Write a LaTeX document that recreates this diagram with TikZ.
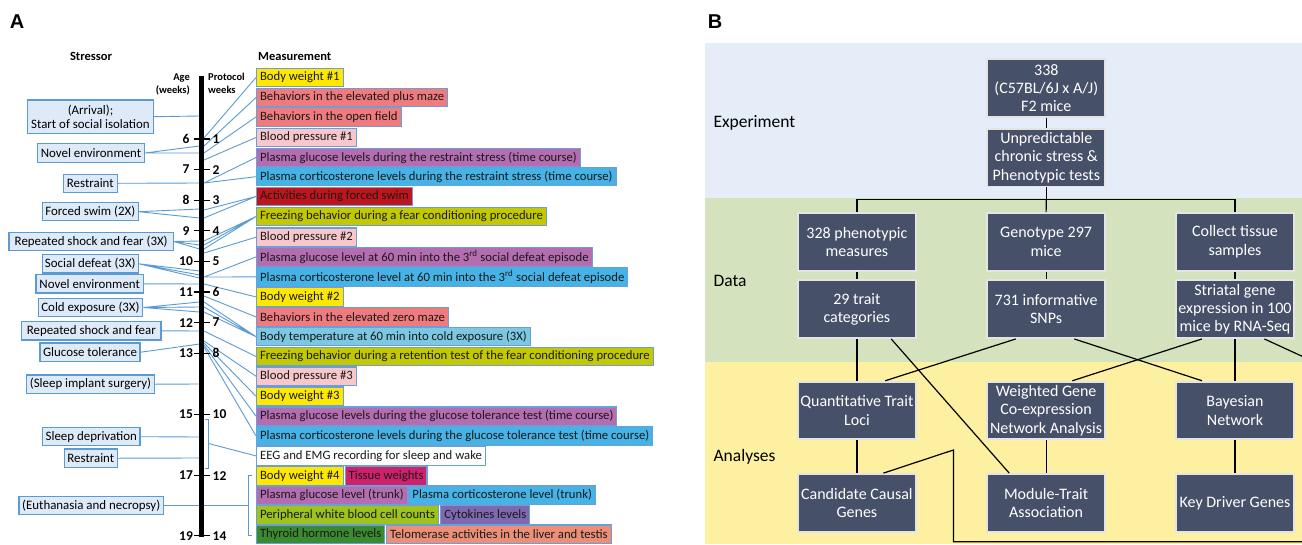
\documentclass[tikz,border=0pt]{standalone}
\usepackage{fontspec}
\setmainfont{Carlito}
\newfontfamily\letterfont{Liberation Sans}
\usetikzlibrary{calc}

\definecolor{stressfill}{HTML}{DEEAF7}
\definecolor{linkblue}{HTML}{5B9BD5}
\definecolor{measline}{HTML}{6A9FD8}
\definecolor{cWeight}{HTML}{FFE800}
\definecolor{cBehav}{HTML}{EF7B7E}
\definecolor{cBP}{HTML}{F8C7CC}
\definecolor{cGlu}{HTML}{B46DB1}
\definecolor{cCort}{HTML}{46B3E6}
\definecolor{cSwim}{HTML}{C0151C}
\definecolor{cFreeze}{HTML}{C3C900}
\definecolor{cTemp}{HTML}{7CC8E2}
\definecolor{cTissue}{HTML}{D0216C}
\definecolor{cWBC}{HTML}{9DC31C}
\definecolor{cCyto}{HTML}{7E68B0}
\definecolor{cThyroid}{HTML}{3B8A2F}
\definecolor{cTelo}{HTML}{EC8F78}
\definecolor{bandExp}{HTML}{E4EDF8}
\definecolor{bandData}{HTML}{D4E3BE}
\definecolor{bandAna}{HTML}{FDF1A1}
\definecolor{boxslate}{HTML}{465069}
\definecolor{boxrim}{HTML}{E4E4E4}

\tikzset{
  stressor/.style={draw=linkblue, fill=stressfill, line width=1.2pt, inner sep=0pt,
    minimum height=18.3pt, align=center, font=\fontsize{12.9}{14.5}\selectfont},
  meas/.style={draw=measline, line width=1.1pt, anchor=west, inner xsep=3.5pt, inner ysep=0pt,
    minimum height=18.4pt, text=black!90, font=\fontsize{12.7}{14}\selectfont},
  link/.style={linkblue, line width=0.9pt},
  headlab/.style={inner sep=0pt, font=\bfseries\fontsize{12.5}{14}\selectfont},
  smalllab/.style={inner sep=0pt, font=\bfseries\fontsize{10.5}{13}\selectfont},
  agelab/.style={inner sep=0pt, font=\bfseries\fontsize{13.5}{15}\selectfont},
  panellab/.style={inner sep=0pt, font=\letterfont\bfseries\fontsize{20}{22}\selectfont},
  bandlab/.style={anchor=west, inner sep=0pt, font=\fontsize{17.5}{20}\selectfont},
  flowbox/.style={draw=boxrim, fill=boxslate, line width=1.8pt, text=white,
    minimum width=117.9pt, minimum height=57.7pt, inner xsep=0pt, inner ysep=0pt,
    align=center, font=\fontsize{16}{18.3}\selectfont},
  flow/.style={black, line width=1.2pt}
}

\begin{document}
\begin{tikzpicture}[x=1pt, y=-1pt]
\useasboundingbox (0,0) rectangle (1302,544);
\fill[white] (0,0) rectangle (1302,544);
\clip (0,0) rectangle (1302,544);

% ---------------- Panel A: stress protocol timeline ----------------
\node[panellab] (panelA) at (17,22) {A};
\node[headlab] (hStress) at (91,56) {Stressor};
\node[headlab, anchor=west] (hMeas) at (258,56) {Measurement};
\node[smalllab, anchor=north east, align=right] (hAge) at (190,73) {Age\\(weeks)};
\node[smalllab, anchor=north west, align=left] (hWeeks) at (208,73) {Protocol\\weeks};

% stressor boxes
\node[stressor, minimum width=125.6pt, minimum height=33.3pt] (sArrival) at (90.5,116.7) {(Arrival);\\Start of social isolation};
\node[stressor, minimum width=106.6pt] (sNovelA) at (91,153) {Novel environment};
\node[stressor, minimum width=54pt] (sRestrA) at (90.3,183.3) {Restraint};
\node[stressor, minimum width=96pt] (sSwim) at (90.3,211.7) {Forced swim (2X)};
\node[stressor, minimum width=164.3pt] (sShockA) at (91.2,241.5) {Repeated shock and fear (3X)};
\node[stressor, minimum width=96pt] (sDefeat) at (90.3,263.8) {Social defeat (3X)};
\node[stressor, minimum width=107.3pt] (sNovelB) at (89.7,283.8) {Novel environment};
\node[stressor, minimum width=104.4pt] (sCold) at (90.5,307.5) {Cold exposure (3X)};
\node[stressor, minimum width=139.3pt] (sShockB) at (91.3,330.8) {Repeated shock and fear};
\node[stressor, minimum width=100pt] (sGlucose) at (90,352.2) {Glucose tolerance};
\node[stressor, minimum width=127.6pt] (sImplant) at (90.5,384.2) {(Sleep implant surgery)};
\node[stressor, minimum width=97.3pt] (sSleep) at (91.3,436.7) {Sleep deprivation};
\node[stressor, minimum width=53pt] (sRestrB) at (90.8,458.2) {Restraint};
\node[stressor, minimum width=144.3pt] (sEuth) at (91.2,505.5) {(Euthanasia and necropsy)};

% measurement boxes
\node[meas, fill=cWeight] (mW1) at (256,77.5) {Body weight \#1};
\node[meas, fill=cBehav] (mPlus) at (256,97.5) {Behaviors in the elevated plus maze};
\node[meas, fill=cBehav] (mOpen) at (256,116.9) {Behaviors in the open field};
\node[meas, fill=cBP] (mBP1) at (256,137.5) {Blood pressure \#1};
\node[meas, fill=cGlu] (mGluR) at (256,157.5) {Plasma glucose levels during the restraint stress (time course)};
\node[meas, fill=cCort] (mCortR) at (256,176.7) {Plasma corticosterone levels during the restraint stress (time course)};
\node[meas, fill=cSwim] (mSwim) at (256,196.5) {Activities during forced swim};
\node[meas, fill=cFreeze] (mFreeze) at (256,216.5) {Freezing behavior during a fear conditioning procedure};
\node[meas, fill=cBP] (mBP2) at (256,237.2) {Blood pressure \#2};
\node[meas, fill=cGlu] (mGluD) at (256,256.9) {Plasma glucose level at 60 min into the 3\textsuperscript{rd} social defeat episode};
\node[meas, fill=cCort] (mCortD) at (256,276.9) {Plasma corticosterone level at 60 min into the 3\textsuperscript{rd} social defeat episode};
\node[meas, fill=cWeight] (mW2) at (256,296.9) {Body weight \#2};
\node[meas, fill=cBehav] (mZero) at (256,316.9) {Behaviors in the elevated zero maze};
\node[meas, fill=cTemp] (mTemp) at (256,336.7) {Body temperature at 60 min into cold exposure (3X)};
\node[meas, fill=cFreeze] (mRet) at (256,356.5) {Freezing behavior during a retention test of the fear conditioning procedure};
\node[meas, fill=cBP] (mBP3) at (256,376.2) {Blood pressure \#3};
\node[meas, fill=cWeight] (mW3) at (256,396.2) {Body weight \#3};
\node[meas, fill=cGlu] (mGluT) at (256,416.2) {Plasma glucose levels during the glucose tolerance test (time course)};
\node[meas, fill=cCort] (mCortT) at (256,435.9) {Plasma corticosterone levels during the glucose tolerance test (time course)};
\node[meas, fill=white] (mEEG) at (256,455.9) {EEG and EMG recording for sleep and wake};
\node[meas, fill=cWeight] (mW4) at (256,475.9) {Body weight \#4};
\node[meas, fill=cTissue] (mTissue) at ([xshift=1pt]mW4.east) {Tissue weights};
\node[meas, fill=cGlu] (mGluK) at (256,495.2) {Plasma glucose level (trunk)};
\node[meas, fill=cCort] (mCortK) at ([xshift=0.6pt]mGluK.east) {Plasma corticosterone level (trunk)};
\node[meas, fill=cWBC] (mWBC) at (256,514.9) {Peripheral white blood cell counts};
\node[meas, fill=cCyto] (mCyto) at ([xshift=1.2pt]mWBC.east) {Cytokines levels};
\node[meas, fill=cThyroid] (mThy) at (256,534.2) {Thyroid hormone levels};
\node[meas, fill=cTelo] (mTelo) at ([xshift=0.7pt]mThy.east) {Telomerase activities in the liver and testis};

% attachment points on both sides of the timeline bar
\foreach \y in {116,146,153,183,209,218,241,245,249,271,275,278,284,302,307,312,331,344,384,437,458}
  \coordinate (L\y) at (199.5,\y);
\foreach \y in {138,146,153,160,183,210,218,241,245,249,253,277,284,296,302,307,312,331,341,343,345,347}
  \coordinate (R\y) at (204,\y);
\coordinate (brkA) at (208.5,443.5);
\coordinate (brkB) at (248,505.5);

% stressor -> timeline
\draw[link] (sArrival.east) -- (L116);
\draw[link] (sNovelA.east) -- (L146) (sNovelA.east) -- (L153);
\draw[link] (sRestrA.east) -- (L183);
\draw[link] (sSwim.east) -- (L209) (sSwim.east) -- (L218);
\draw[link] (sShockA.east) -- (L241) (sShockA.east) -- (L245) (sShockA.east) -- (L249);
\draw[link] (sDefeat.east) -- (L271) (sDefeat.east) -- (L275) (sDefeat.east) -- (L278);
\draw[link] (sNovelB.east) -- (L284);
\draw[link] (sCold.east) -- (L302) (sCold.east) -- (L307) (sCold.east) -- (L312);
\draw[link] (sShockB.east) -- (L331);
\draw[link] (sGlucose.east) -- (L344);
\draw[link] (sImplant.east) -- (L384);
\draw[link] (sSleep.east) -- (L437);
\draw[link] (sRestrB.east) -- (L458);
\draw[link] (sEuth.east) -- (brkB);

% timeline -> measurements
\draw[link] (R138) -- (mW1.west);
\draw[link] (R146) -- (mPlus.west);
\draw[link] (R153) -- (mOpen.west);
\draw[link] (R160) -- (mBP1.west);
\draw[link] (R183) -- (mGluR.west) (R183) -- (mCortR.west);
\draw[link] (R210) -- (mSwim.west) (R218) -- (mSwim.west);
\draw[link] (R241) -- (mFreeze.west) (R245) -- (mFreeze.west) (R249) -- (mFreeze.west);
\draw[link] (R253) -- (mBP2.west);
\draw[link] (R277) -- (mGluD.west) (R277) -- (mCortD.west);
\draw[link] (R284) -- (mW2.west);
\draw[link] (R296) -- (mZero.west);
\draw[link] (R302) -- (mTemp.west) (R307) -- (mTemp.west) (R312) -- (mTemp.west);
\draw[link] (R331) -- (mRet.west);
\draw[link] (R341) -- (mBP3.west);
\draw[link] (R343) -- (mW3.west);
\draw[link] (R345) -- (mGluT.west);
\draw[link] (R347) -- (mCortT.west);
\draw[link] (brkA) -- (mEEG.west);

% brackets
\draw[link] (204.5,419) -- (208.5,419) -- (208.5,468) -- (204.5,468);
\draw[link] (252,475.5) -- (248,475.5) -- (248,535.7) -- (252,535.7);

% timeline bar with ticks
\draw[line width=4.7pt] (201.7,76) -- (201.7,537);
\foreach \a/\p/\y in {6/1/139,7/2/169.6,8/3/200.2,9/4/230.8,10/5/261.4,11/6/292,12/7/322.6,13/8/353.2,15/10/414.4,17/12/475.6,19/14/535.8}{
  \draw[line width=1.3pt] (193.5,\y) -- (210,\y);
  \node[agelab] (age\a) at (186,\y) {\a};
  \node[agelab, anchor=west] (wk\p) at (212.5,\y) {\p};
}

% ---------------- Panel B: study design ----------------
\node[panellab] (panelB) at (715,22) {B};
\fill[bandExp] (704.6,43.3) rectangle (1302,198);
\fill[bandData] (704.6,198) rectangle (1302,361.7);
\fill[bandAna] (704.6,361.7) rectangle (1302,544);
\node[bandlab] (lExp) at (713.4,122.7) {Experiment};
\node[bandlab] (lData) at (713.4,280.7) {Data};
\node[bandlab] (lAna) at (713.4,456.7) {Analyses};

\node[flowbox] (mice) at (1046.3,88) {338\\(C57BL/6J x A/J)\\F2 mice};
\node[flowbox] (stress) at (1046.3,157.7) {Unpredictable\\chronic stress \&\\Phenotypic tests};
\node[flowbox] (pheno) at (856.9,241.8) {328 phenotypic\\measures};
\node[flowbox] (geno) at (1046.1,241.8) {Genotype 297\\mice};
\node[flowbox] (tissue) at (1235,241.8) {Collect tissue\\samples};
\node[flowbox] (trait) at (856.9,309.2) {29 trait\\categories};
\node[flowbox] (snps) at (1046.1,309.2) {731 informative\\SNPs};
\node[flowbox] (rna) at (1235,309.2) {Striatal gene\\expression in 100\\mice by RNA-Seq};
\node[flowbox] (qtl) at (856.9,410.5) {Quantitative Trait\\Loci};
\node[flowbox] (wgcna) at (1046.1,410.5) {Weighted Gene\\Co-expression\\Network Analysis};
\node[flowbox] (bayes) at (1235,410.5) {Bayesian\\Network};
\node[flowbox] (cand) at (856.9,502.9) {Candidate Causal\\Genes};
\node[flowbox] (module) at (1046.1,502.9) {Module-Trait\\Association};
\node[flowbox] (kdg) at (1235,502.9) {Key Driver Genes};

\coordinate (split) at (1046.3,199.3);
\draw[flow] (mice) -- (stress);
\draw[flow] (stress) -- (split);
\draw[flow] (pheno.north) |- (split) -| (tissue.north);
\draw[flow] (split) -- (geno.north);
\draw[flow] (pheno) -- (trait);
\draw[flow] (geno) -- (snps);
\draw[flow] (tissue) -- (rna);
\draw[flow] (trait) -- (qtl);
\draw[flow] (rna) -- (bayes);
\draw[flow] (qtl) -- (cand);
\draw[flow] (wgcna) -- (module);
\draw[flow] (bayes) -- (kdg);
\draw[flow] ($(trait.south)+(34.3,0)$) -- ($(module.north west)+(23,0)$);
\draw[flow] ($(snps.south west)+(29.5,0)$) -- ($(qtl.north east)+(-31.5,0)$);
\draw[flow] ($(snps.south)+(28.2,0)$) -- ($(bayes.north west)+(26.8,0)$);
\draw[flow] ($(rna.south west)+(26.8,0)$) -- ($(wgcna.north)+(26.3,0)$);
\coordinate (edgeA) at (1330,369.1);
\coordinate (edgeB) at (1330,541.7);
\coordinate (turnB) at (953.4,541.7);
\coordinate (turnA) at (953.4,450);
\draw[flow] ($(rna.south)+(29.4,0)$) -- (edgeA) -- (edgeB) -- (turnB) -- (turnA) -- ($(cand.north east)+(-33.4,0)$);
\end{tikzpicture}
\end{document}
